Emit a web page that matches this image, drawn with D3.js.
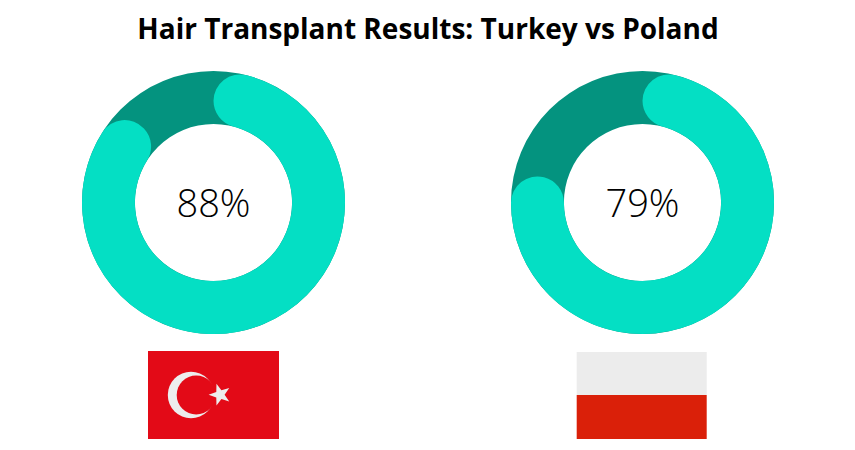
<!DOCTYPE html>
<html><head><meta charset="utf-8">
<script src="https://cdn.jsdelivr.net/npm/d3@7"></script>
<style>html,body{margin:0;padding:0;background:#fff}svg{display:block}</style>
</head><body><svg id="c" width="855" height="450"></svg>
<script>
const chartTitle = "Hair Transplant Results: Turkey vs Poland";
const countries = ["Turkey", "Poland"];
const percents = [88, 79];

const svg = d3.select("#c");
const TEAL = "#04DFC4", DARK = "#04937F";
const outer = 131.5, inner = 78.6, cy = 202.5;
const centers = [213.5, 642.5];

svg.append("text").attr("x", 428).attr("y", 38.5).attr("text-anchor", "middle")
  .attr("font-family", "'Open Sans'").attr("font-weight", 700).attr("font-size", 28)
  .attr("fill", "#000").text(chartTitle);

const angle = d3.scaleLinear().domain([0, 100]).range([0, 2 * Math.PI]);
const ring = d3.arc().innerRadius(inner).outerRadius(outer);
const bar = d3.arc().innerRadius(inner).outerRadius(outer).cornerRadius((outer - inner) / 2);

countries.forEach((name, i) => {
  const g = svg.append("g").attr("transform", `translate(${centers[i]},${cy})`);
  g.append("path").attr("fill", DARK).attr("d", ring({startAngle: 0, endAngle: 2 * Math.PI}));
  g.append("path").attr("fill", TEAL).attr("d", bar({startAngle: 0, endAngle: angle(percents[i])}));
  g.append("text").attr("text-anchor", "middle").attr("y", 14.5)
    .attr("font-family", "'Open Sans'").attr("font-weight", 300).attr("font-size", 38)
    .attr("fill", "#000").text(percents[i] + "%");
});

// Turkey flag
const t = svg.append("g").attr("transform", "translate(148,351)");
t.append("rect").attr("width", 131).attr("height", 88).attr("fill", "#E30A17");
t.append("circle").attr("cx", 43).attr("cy", 44).attr("r", 23.2).attr("fill", "#EDEDED");
t.append("circle").attr("cx", 48.2).attr("cy", 44).attr("r", 19.5).attr("fill", "#E30A17");
const starPts = d3.range(10).map(k => {
  const a = Math.PI + k * Math.PI / 5, r = k % 2 ? 4.6 : 11.4;
  return [r * Math.cos(a), r * Math.sin(a)];
});
t.append("path").attr("fill", "#EDEDED").attr("transform", "translate(72,43.7)")
  .attr("d", d3.line().curve(d3.curveLinearClosed)(starPts));

// Poland flag
const p = svg.append("g").attr("transform", "translate(576.7,352)");
p.append("rect").attr("width", 130).attr("height", 43).attr("fill", "#ECECEC");
p.append("rect").attr("y", 43).attr("width", 130).attr("height", 44).attr("fill", "#DA2009");
</script></body></html>
